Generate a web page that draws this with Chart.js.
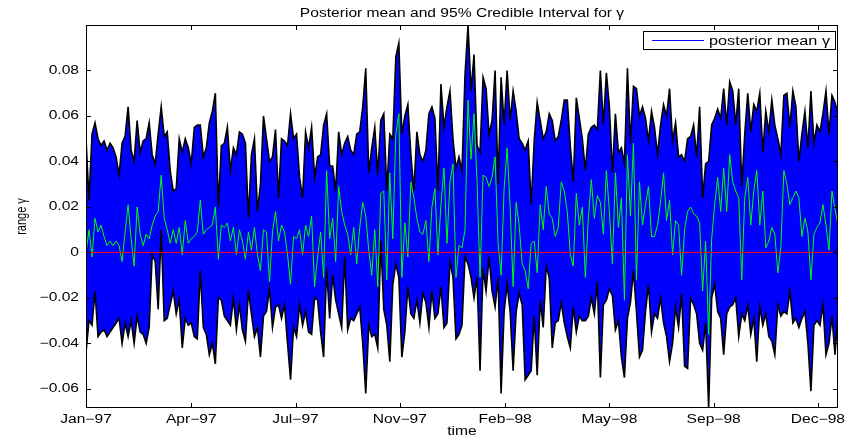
<!DOCTYPE html>
<html>
<head>
<meta charset="utf-8">
<title>Posterior mean and 95% Credible Interval</title>
<script src="https://cdn.jsdelivr.net/npm/chart.js@4.4.0/dist/chart.umd.min.js"></script>
<style>
  html, body { margin: 0; padding: 0; background: #fff; }
  canvas { display: block; }
</style>
</head>
<body>
<canvas id="gamma-chart" width="846" height="437"></canvas>
<script>
// upper / lower bound of the 95% interval and the posterior mean, one value every 3 days
const upper = [
  0.050, 0.023, 0.052, 0.057, 0.050, 0.047, 0.049, 0.045, 0.048, 0.046,
  0.042, 0.034, 0.048, 0.051, 0.064, 0.045, 0.040, 0.058, 0.044, 0.049,
  0.050, 0.057, 0.043, 0.039, 0.052, 0.064, 0.051, 0.053, 0.036, 0.027,
  0.028, 0.050, 0.044, 0.050, 0.046, 0.039, 0.055, 0.056, 0.056, 0.042,
  0.046, 0.057, 0.062, 0.070, 0.020, 0.047, 0.048, 0.055, 0.036, 0.046,
  0.043, 0.053, 0.052, 0.048, 0.015, 0.043, 0.050, 0.018, 0.030, 0.060,
  0.050, 0.040, 0.042, 0.054, 0.024, 0.050, 0.049, 0.047, 0.061, 0.050,
  0.052, 0.033, 0.024, 0.053, 0.046, 0.055, 0.033, 0.042, 0.043, 0.056,
  0.061, 0.038, 0.038, 0.027, 0.053, 0.043, 0.048, 0.051, 0.045, 0.043,
  0.052, 0.053, 0.064, 0.081, 0.035, 0.046, 0.055, 0.034, 0.058, 0.061,
  0.027, 0.052, 0.050, 0.086, 0.092, 0.052, 0.060, 0.065, 0.043, 0.027,
  0.053, 0.043, 0.040, 0.045, 0.061, 0.064, 0.059, 0.027, 0.074, 0.055,
  0.064, 0.071, 0.050, 0.037, 0.042, 0.036, 0.078, 0.100, 0.071, 0.087,
  0.047, 0.044, 0.077, 0.072, 0.052, 0.058, 0.080, 0.030, 0.077, 0.056,
  0.080, 0.058, 0.071, 0.062, 0.050, 0.048, 0.045, 0.049, 0.021, 0.049,
  0.066, 0.058, 0.050, 0.053, 0.061, 0.058, 0.049, 0.051, 0.058, 0.067,
  0.067, 0.047, 0.031, 0.068, 0.059, 0.050, 0.036, 0.052, 0.055, 0.056,
  0.054, 0.080, 0.056, 0.079, 0.064, 0.035, 0.061, 0.044, 0.046, 0.039,
  0.081, 0.048, 0.073, 0.072, 0.060, 0.064, 0.059, 0.049, 0.062, 0.055,
  0.043, 0.056, 0.065, 0.060, 0.072, 0.049, 0.057, 0.042, 0.043, 0.040,
  0.050, 0.051, 0.056, 0.042, 0.064, 0.024, 0.039, 0.040, 0.056, 0.059,
  0.063, 0.059, 0.072, 0.056, 0.075, 0.071, 0.056, 0.072, 0.029, 0.052,
  0.070, 0.053, 0.065, 0.062, 0.070, 0.044, 0.062, 0.053, 0.067, 0.056,
  0.050, 0.043, 0.069, 0.070, 0.055, 0.071, 0.064, 0.040, 0.052, 0.062,
  0.046, 0.071, 0.048, 0.056, 0.053, 0.061, 0.071, 0.052, 0.069, 0.066, 0.061
];

const posteriorMean = [
  0.000, 0.010, -0.002, 0.015, 0.009, 0.012, 0.007, 0.003, 0.005, 0.003,
  0.005, 0.003, -0.004, 0.009, 0.021, 0.006, -0.006, 0.020, 0.008, 0.003,
  0.008, 0.006, 0.012, 0.016, 0.018, 0.034, 0.015, 0.010, 0.004, 0.010,
  0.004, 0.011, -0.001, 0.014, 0.004, 0.006, 0.007, 0.009, 0.023, 0.008,
  0.010, 0.011, 0.012, 0.020, -0.003, 0.012, 0.011, 0.013, 0.005, 0.011,
  -0.001, 0.010, 0.005, -0.003, 0.009, 0.001, 0.011, -0.001, -0.008, 0.010,
  0.009, -0.013, 0.009, 0.018, 0.005, 0.012, 0.009, -0.001, -0.014, 0.007,
  0.006, 0.010, -0.001, 0.012, 0.007, 0.016, -0.015, -0.002, 0.009, -0.011,
  0.036, 0.006, 0.015, -0.004, 0.029, 0.018, 0.012, 0.008, -0.001, 0.011,
  -0.005, 0.011, 0.022, 0.016, 0.001, -0.010, 0.010, -0.015, 0.026, 0.027,
  -0.012, 0.035, 0.006, 0.052, 0.061, -0.011, 0.013, -0.002, 0.031, 0.024,
  0.015, 0.009, 0.008, 0.014, -0.004, 0.020, 0.028, -0.001, 0.021, 0.037,
  0.004, 0.031, 0.039, -0.011, 0.003, 0.002, 0.010, 0.067, 0.041, 0.061,
  0.031, -0.011, 0.034, 0.033, 0.029, 0.033, 0.042, 0.004, -0.010, 0.028,
  0.046, 0.020, -0.015, 0.022, 0.012, -0.005, -0.008, -0.016, 0.004, 0.005,
  -0.009, 0.021, 0.010, 0.029, 0.017, 0.015, 0.007, 0.011, 0.031, 0.027,
  0.018, -0.001, -0.006, 0.026, 0.012, 0.020, -0.011, 0.015, 0.032, 0.015,
  0.025, 0.022, 0.008, 0.036, 0.018, -0.005, 0.035, 0.011, 0.024, -0.021,
  0.043, 0.016, 0.048, -0.012, 0.031, 0.012, 0.021, 0.029, 0.007, 0.007,
  0.012, 0.022, 0.035, 0.014, 0.023, -0.001, 0.014, 0.012, -0.010, 0.010,
  0.018, 0.020, 0.017, 0.016, 0.013, -0.017, 0.005, -0.036, 0.006, 0.021,
  0.033, 0.018, 0.037, 0.018, 0.043, 0.031, 0.027, 0.024, -0.012, 0.024,
  0.033, 0.012, 0.027, 0.036, 0.012, 0.027, 0.002, 0.005, 0.011, 0.008,
  -0.009, 0.002, 0.036, 0.030, 0.021, 0.024, 0.027, 0.024, 0.007, 0.015,
  0.009, -0.012, 0.008, 0.011, 0.013, 0.021, 0.012, 0.001, 0.027, 0.019, 0.012
];

const lower = [
  -0.044, -0.030, -0.032, -0.017, -0.037, -0.035, -0.034, -0.037, -0.035, -0.033,
  -0.031, -0.029, -0.040, -0.031, -0.037, -0.030, -0.040, -0.028, -0.035, -0.036,
  -0.040, -0.033, -0.001, -0.004, -0.025, 0.010, -0.030, -0.029, -0.023, -0.017,
  -0.027, -0.021, -0.042, -0.029, -0.032, -0.031, -0.037, -0.038, -0.008, -0.033,
  -0.036, -0.045, -0.040, -0.049, -0.020, -0.021, -0.028, -0.030, -0.032, -0.020,
  -0.034, -0.023, -0.034, -0.039, -0.017, -0.027, -0.037, -0.033, -0.046, -0.028,
  -0.026, -0.016, -0.033, -0.024, -0.023, -0.029, -0.023, -0.040, -0.056, -0.033,
  -0.037, -0.023, -0.032, -0.026, -0.035, -0.036, -0.020, -0.021, -0.035, -0.046,
  -0.007, -0.029, -0.010, -0.021, -0.027, -0.033, -0.002, -0.034, -0.029, -0.030,
  -0.027, -0.024, -0.040, -0.062, -0.032, -0.037, -0.036, -0.042, 0.005, -0.025,
  -0.032, -0.048, -0.014, -0.005, -0.011, -0.046, -0.035, -0.015, -0.027, -0.029,
  -0.021, -0.031, -0.018, -0.022, -0.033, -0.017, -0.029, -0.027, -0.015, -0.033,
  -0.031, -0.004, -0.011, -0.038, -0.036, -0.032, -0.002, -0.005, -0.011, -0.020,
  -0.011, -0.052, -0.007, -0.017, -0.002, -0.017, -0.024, -0.011, -0.062, -0.026,
  -0.014, -0.026, -0.052, -0.026, -0.018, -0.023, -0.056, -0.054, -0.052, -0.028,
  -0.054, -0.021, -0.033, -0.006, -0.011, -0.042, -0.031, -0.030, -0.022, -0.031,
  -0.037, -0.042, -0.024, -0.035, -0.028, -0.030, -0.030, -0.028, -0.020, -0.027,
  -0.013, -0.055, -0.023, -0.021, -0.016, -0.019, -0.034, -0.030, -0.046, -0.055,
  -0.029, -0.022, -0.008, -0.026, -0.046, -0.043, -0.026, -0.014, -0.035, -0.027,
  -0.029, -0.020, -0.031, -0.037, -0.048, -0.040, -0.024, -0.033, -0.018, -0.050,
  -0.051, -0.020, -0.023, -0.027, -0.040, -0.043, -0.031, -0.0684, -0.020, -0.014,
  -0.026, -0.029, -0.045, -0.027, -0.024, -0.023, -0.020, -0.037, -0.027, -0.030,
  -0.023, -0.036, -0.029, -0.048, -0.024, -0.032, -0.027, -0.037, -0.039, -0.045,
  -0.023, -0.028, -0.026, -0.027, -0.017, -0.031, -0.029, -0.033, -0.029, -0.026,
  -0.040, -0.061, -0.032, -0.030, -0.032, -0.023, -0.045, -0.040, -0.028, -0.045, -0.027
];

const dayStep = 3;
const zeroLevel = 0;

// date ticks (days from the first observation) and their labels
const tickDays = [0, 105, 209, 313, 418, 522, 626, 730];
const tickLabels = ['Jan\u221297', 'Apr\u221297', 'Jul\u221297', 'Nov\u221297',
                    'Feb\u221298', 'May\u221298', 'Sep\u221298', 'Dec\u221298'];
const yTickValues = [-0.06, -0.04, -0.02, 0, 0.02, 0.04, 0.06, 0.08];

const titleText = 'Posterior mean and 95% Credible Interval for \u03b3';
const xTitle = 'time';
const yTitle = 'range \u03b3';
const legendText = 'posterior mean \u03b3';

const days = upper.map((_, i) => i * dayStep);
const toPoints = (arr) => arr.map((v, i) => ({ x: days[i], y: v }));

// matlab text comes out wide, so glyphs get stretched horizontally
const FONT = '12px "Liberation Sans", Arial, Helvetica, sans-serif';
const SX = 1.3;

function wideText(ctx, str, x, y, align, baseline) {
  ctx.save();
  ctx.translate(x, y);
  ctx.scale(SX, 1);
  ctx.textAlign = align;
  ctx.textBaseline = baseline;
  ctx.fillText(str, 0, 0);
  ctx.restore();
}

function fmtTick(v) {
  if (v === 0) return '0';
  return (v < 0 ? '\u2212' : '') + Math.abs(v).toFixed(2);
}

const matlabAxes = {
  id: 'matlabAxes',
  afterDraw(chart) {
    const ctx = chart.ctx;
    const { left, right, top, bottom } = chart.chartArea;
    const xs = chart.scales.x, ys = chart.scales.y;
    const tickLen = 5;

    ctx.save();
    ctx.strokeStyle = '#000';
    ctx.fillStyle = '#000';
    ctx.lineWidth = 1;
    ctx.font = FONT;

    // ticks pointing inward on all four sides
    ctx.beginPath();
    yTickValues.forEach(v => {
      const py = Math.round(ys.getPixelForValue(v)) + 0.5;
      ctx.moveTo(left, py); ctx.lineTo(left + tickLen, py);
      ctx.moveTo(right, py); ctx.lineTo(right - tickLen, py);
    });
    tickDays.forEach(d => {
      const px = Math.round(xs.getPixelForValue(d)) + 0.5;
      ctx.moveTo(px, bottom); ctx.lineTo(px, bottom - tickLen);
      ctx.moveTo(px, top); ctx.lineTo(px, top + tickLen);
    });
    ctx.stroke();

    // box
    ctx.strokeRect(left + 0.5, top + 0.5, right - left - 1, bottom - top - 1);

    // tick labels
    yTickValues.forEach(v => {
      wideText(ctx, fmtTick(v), left - 7, ys.getPixelForValue(v), 'right', 'middle');
    });
    tickDays.forEach((d, i) => {
      wideText(ctx, tickLabels[i], xs.getPixelForValue(d), bottom + 15, 'center', 'alphabetic');
    });

    // axis titles and chart title
    const midX = (left + right) / 2;
    wideText(ctx, xTitle, midX, bottom + 27, 'center', 'alphabetic');
    wideText(ctx, titleText, midX, top - 8, 'center', 'alphabetic');

    ctx.save();
    ctx.translate(22, (top + bottom) / 2);
    ctx.rotate(-Math.PI / 2);
    ctx.scale(1, SX);
    ctx.textAlign = 'center';
    ctx.textBaseline = 'middle';
    ctx.font = '11px "Liberation Sans", Arial, Helvetica, sans-serif';
    ctx.fillText(yTitle, 0, 0);
    ctx.restore();

    // legend box, top right inside the axes
    const lx0 = right - 195, ly0 = top + 6, lw = 193, lh = 19;
    ctx.fillStyle = '#fff';
    ctx.fillRect(lx0, ly0, lw, lh);
    ctx.strokeStyle = '#000';
    ctx.strokeRect(lx0 + 0.5, ly0 + 0.5, lw - 1, lh - 1);
    ctx.strokeStyle = '#0000ff';
    ctx.beginPath();
    ctx.moveTo(lx0 + 9, ly0 + 9.5);
    ctx.lineTo(lx0 + 61, ly0 + 9.5);
    ctx.stroke();
    ctx.fillStyle = '#000';
    ctx.font = '12.5px "Liberation Sans", Arial, Helvetica, sans-serif';
    wideText(ctx, legendText, lx0 + 66, ly0 + 14, 'left', 'alphabetic');

    ctx.restore();
  }
};

new Chart(document.getElementById('gamma-chart'), {
  type: 'line',
  data: {
    datasets: [
      {
        label: 'zero',
        data: [{ x: days[0], y: zeroLevel }, { x: days[days.length - 1], y: zeroLevel }],
        borderColor: '#ff0000',
        borderWidth: 1,
        pointRadius: 0,
        fill: false,
        order: 0
      },
      {
        label: legendText,
        data: toPoints(posteriorMean),
        borderColor: '#00ff00',
        borderWidth: 1,
        pointRadius: 0,
        fill: false,
        order: 1
      },
      {
        label: 'upper',
        data: toPoints(upper),
        borderColor: '#000000',
        borderWidth: 1.6,
        pointRadius: 0,
        backgroundColor: '#0000ff',
        fill: '+1',
        order: 2
      },
      {
        label: 'lower',
        data: toPoints(lower),
        borderColor: '#000000',
        borderWidth: 1.6,
        pointRadius: 0,
        fill: false,
        order: 3
      }
    ]
  },
  options: {
    responsive: false,
    animation: false,
    devicePixelRatio: 1,
    layout: { padding: { left: 86, right: 8, top: 25, bottom: 29 } },
    elements: { line: { tension: 0 } },
    scales: {
      x: {
        type: 'linear',
        display: false,
        min: days[0],
        max: days[days.length - 1]
      },
      y: {
        type: 'linear',
        display: false,
        min: Math.min(...lower),
        max: Math.max(...upper)
      }
    },
    plugins: {
      legend: { display: false },
      tooltip: { enabled: false },
      filler: { drawTime: 'beforeDatasetsDraw' }
    }
  },
  plugins: [matlabAxes]
});
</script>
</body>
</html>
